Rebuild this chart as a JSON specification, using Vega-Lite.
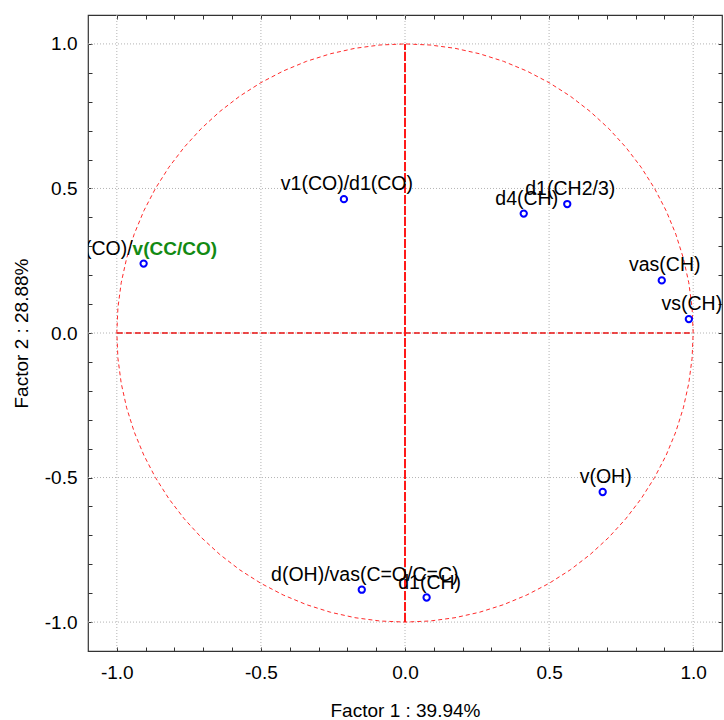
{
  "$schema": "https://vega.github.io/schema/vega-lite/v6.json",
  "autosize": {"type": "none"},
  "width": 634,
  "height": 636,
  "padding": {"left": 88, "top": 15, "right": 2, "bottom": 69},
  "config": {
    "view": {"stroke": "#333333", "strokeWidth": 1.2},
    "font": "Liberation Sans",
    "axis": {
      "labelFont": "Liberation Sans",
      "labelFontSize": 19,
      "labelColor": "#000000",
      "titleFont": "Liberation Sans",
      "titleFontSize": 19,
      "titleFontWeight": "normal",
      "titleColor": "#000000",
      "domain": false,
      "grid": false,
      "tickColor": "#333333",
      "tickWidth": 1,
      "tickSize": -4
    }
  },
  "datasets": {
    "circle": [
      {"a":0,"x":1,"y":0},{"a":5,"x":0.9962,"y":0.0872},{"a":10,"x":0.9848,"y":0.1736},{"a":15,"x":0.9659,"y":0.2588},{"a":20,"x":0.9397,"y":0.342},{"a":25,"x":0.9063,"y":0.4226},{"a":30,"x":0.866,"y":0.5},{"a":35,"x":0.8192,"y":0.5736},{"a":40,"x":0.766,"y":0.6428},{"a":45,"x":0.7071,"y":0.7071},{"a":50,"x":0.6428,"y":0.766},{"a":55,"x":0.5736,"y":0.8192},{"a":60,"x":0.5,"y":0.866},{"a":65,"x":0.4226,"y":0.9063},{"a":70,"x":0.342,"y":0.9397},{"a":75,"x":0.2588,"y":0.9659},{"a":80,"x":0.1736,"y":0.9848},{"a":85,"x":0.0872,"y":0.9962},{"a":90,"x":0,"y":1},
      {"a":95,"x":-0.0872,"y":0.9962},{"a":100,"x":-0.1736,"y":0.9848},{"a":105,"x":-0.2588,"y":0.9659},{"a":110,"x":-0.342,"y":0.9397},{"a":115,"x":-0.4226,"y":0.9063},{"a":120,"x":-0.5,"y":0.866},{"a":125,"x":-0.5736,"y":0.8192},{"a":130,"x":-0.6428,"y":0.766},{"a":135,"x":-0.7071,"y":0.7071},{"a":140,"x":-0.766,"y":0.6428},{"a":145,"x":-0.8192,"y":0.5736},{"a":150,"x":-0.866,"y":0.5},{"a":155,"x":-0.9063,"y":0.4226},{"a":160,"x":-0.9397,"y":0.342},{"a":165,"x":-0.9659,"y":0.2588},{"a":170,"x":-0.9848,"y":0.1736},{"a":175,"x":-0.9962,"y":0.0872},{"a":180,"x":-1,"y":0},
      {"a":185,"x":-0.9962,"y":-0.0872},{"a":190,"x":-0.9848,"y":-0.1736},{"a":195,"x":-0.9659,"y":-0.2588},{"a":200,"x":-0.9397,"y":-0.342},{"a":205,"x":-0.9063,"y":-0.4226},{"a":210,"x":-0.866,"y":-0.5},{"a":215,"x":-0.8192,"y":-0.5736},{"a":220,"x":-0.766,"y":-0.6428},{"a":225,"x":-0.7071,"y":-0.7071},{"a":230,"x":-0.6428,"y":-0.766},{"a":235,"x":-0.5736,"y":-0.8192},{"a":240,"x":-0.5,"y":-0.866},{"a":245,"x":-0.4226,"y":-0.9063},{"a":250,"x":-0.342,"y":-0.9397},{"a":255,"x":-0.2588,"y":-0.9659},{"a":260,"x":-0.1736,"y":-0.9848},{"a":265,"x":-0.0872,"y":-0.9962},{"a":270,"x":0,"y":-1},
      {"a":275,"x":0.0872,"y":-0.9962},{"a":280,"x":0.1736,"y":-0.9848},{"a":285,"x":0.2588,"y":-0.9659},{"a":290,"x":0.342,"y":-0.9397},{"a":295,"x":0.4226,"y":-0.9063},{"a":300,"x":0.5,"y":-0.866},{"a":305,"x":0.5736,"y":-0.8192},{"a":310,"x":0.6428,"y":-0.766},{"a":315,"x":0.7071,"y":-0.7071},{"a":320,"x":0.766,"y":-0.6428},{"a":325,"x":0.8192,"y":-0.5736},{"a":330,"x":0.866,"y":-0.5},{"a":335,"x":0.9063,"y":-0.4226},{"a":340,"x":0.9397,"y":-0.342},{"a":345,"x":0.9659,"y":-0.2588},{"a":350,"x":0.9848,"y":-0.1736},{"a":355,"x":0.9962,"y":-0.0872},{"a":360,"x":1,"y":0}
    ],
    "grid": [{"v": -1}, {"v": -0.5}, {"v": 0}, {"v": 0.5}, {"v": 1}],
    "pts": [
      {"x":-0.212,"y":0.463,"lbl":"v1(CO)/d1(CO)"},
      {"x":0.412,"y":0.413,"lbl":"d4(CH)"},
      {"x":0.563,"y":0.446,"lbl":"d1(CH2/3)"},
      {"x":0.891,"y":0.182,"lbl":"vas(CH)"},
      {"x":0.985,"y":0.048,"lbl":"vs(CH)"},
      {"x":0.686,"y":-0.55,"lbl":"v(OH)"},
      {"x":-0.15,"y":-0.888,"lbl":"d(OH)/vas(C=O/C=C)"},
      {"x":0.075,"y":-0.915,"lbl":"d1(CH)"}
    ],
    "special": [
      {"x":-0.907,"y":0.24,"pre":"(CO)/","post":"v(CC/CO)"}
    ]
  },
  "resolve": {"axis": {"x": "independent", "y": "independent"}},
  "layer": [
    {
      "data": {"name": "grid"},
      "mark": {"type": "rule", "color": "#b4b4b4", "strokeWidth": 1, "strokeDash": [1, 2]},
      "encoding": {
        "x": {
          "field": "v", "type": "quantitative",
          "scale": {"domain": [-1.1, 1.1], "nice": false, "zero": false},
          "axis": {
            "orient": "bottom",
            "title": "Factor 1 : 39.94%",
            "titlePadding": 19,
            "values": [-1, -0.9, -0.8, -0.7, -0.6, -0.5, -0.4, -0.3, -0.2, -0.1, 0, 0.1, 0.2, 0.3, 0.4, 0.5, 0.6, 0.7, 0.8, 0.9, 1],
            "labelExpr": "abs(datum.value*2 - round(datum.value*2)) < 0.001 ? replace(format(datum.value, '.1f'), '\u2212', '-') : ''",
            "labelPadding": 16
          }
        }
      }
    },
    {
      "data": {"name": "grid"},
      "mark": {"type": "rule", "color": "#b4b4b4", "strokeWidth": 1, "strokeDash": [1, 2]},
      "encoding": {
        "y": {
          "field": "v", "type": "quantitative",
          "scale": {"domain": [-1.1, 1.1], "nice": false, "zero": false},
          "axis": {
            "orient": "left",
            "title": "Factor 2 : 28.88%",
            "titlePadding": 13,
            "values": [-1, -0.9, -0.8, -0.7, -0.6, -0.5, -0.4, -0.3, -0.2, -0.1, 0, 0.1, 0.2, 0.3, 0.4, 0.5, 0.6, 0.7, 0.8, 0.9, 1],
            "labelExpr": "abs(datum.value*2 - round(datum.value*2)) < 0.001 ? replace(format(datum.value, '.1f'), '\u2212', '-') : ''",
            "labelPadding": 15
          }
        }
      }
    },
    {
      "data": {"name": "circle"},
      "mark": {"type": "line", "color": "#ff2b2b", "strokeWidth": 1, "strokeDash": [4, 3]},
      "encoding": {
        "x": {"field": "x", "type": "quantitative", "scale": {"domain": [-1.1, 1.1], "nice": false, "zero": false}, "axis": null},
        "y": {"field": "y", "type": "quantitative", "scale": {"domain": [-1.1, 1.1], "nice": false, "zero": false}, "axis": null},
        "order": {"field": "a", "type": "quantitative"}
      }
    },
    {
      "data": {"values": [{"x": -1, "x2": 1, "y": 0}]},
      "mark": {"type": "rule", "color": "#e81010", "strokeWidth": 1.3, "strokeDash": [6, 3]},
      "encoding": {
        "x": {"field": "x", "type": "quantitative", "scale": {"domain": [-1.1, 1.1], "nice": false, "zero": false}, "axis": null},
        "x2": {"field": "x2"},
        "y": {"field": "y", "type": "quantitative", "scale": {"domain": [-1.1, 1.1], "nice": false, "zero": false}, "axis": null}
      }
    },
    {
      "data": {"values": [{"x": 0, "y": -1, "y2": 1}]},
      "mark": {"type": "rule", "color": "#ff1a1a", "strokeWidth": 2, "strokeDash": [9, 2]},
      "encoding": {
        "x": {"field": "x", "type": "quantitative", "scale": {"domain": [-1.1, 1.1], "nice": false, "zero": false}, "axis": null},
        "y": {"field": "y", "type": "quantitative", "scale": {"domain": [-1.1, 1.1], "nice": false, "zero": false}, "axis": null},
        "y2": {"field": "y2"}
      }
    },
    {
      "data": {"name": "pts"},
      "mark": {"type": "point", "shape": "circle", "filled": false, "color": "#0000ff", "strokeWidth": 2, "size": 40, "opacity": 1},
      "encoding": {
        "x": {
          "field": "x", "type": "quantitative",
          "scale": {"domain": [-1.1, 1.1], "nice": false, "zero": false},
          "axis": {"orient": "top", "title": null, "labels": false,
            "values": [-1, -0.9, -0.8, -0.7, -0.6, -0.5, -0.4, -0.3, -0.2, -0.1, 0, 0.1, 0.2, 0.3, 0.4, 0.5, 0.6, 0.7, 0.8, 0.9, 1]}
        },
        "y": {
          "field": "y", "type": "quantitative",
          "scale": {"domain": [-1.1, 1.1], "nice": false, "zero": false},
          "axis": {"orient": "right", "title": null, "labels": false,
            "values": [-1, -0.9, -0.8, -0.7, -0.6, -0.5, -0.4, -0.3, -0.2, -0.1, 0, 0.1, 0.2, 0.3, 0.4, 0.5, 0.6, 0.7, 0.8, 0.9, 1]}
        }
      }
    },
    {
      "data": {"name": "special"},
      "mark": {"type": "point", "shape": "circle", "filled": false, "color": "#0000ff", "strokeWidth": 2, "size": 40, "opacity": 1},
      "encoding": {
        "x": {"field": "x", "type": "quantitative", "scale": {"domain": [-1.1, 1.1], "nice": false, "zero": false}, "axis": null},
        "y": {"field": "y", "type": "quantitative", "scale": {"domain": [-1.1, 1.1], "nice": false, "zero": false}, "axis": null}
      }
    },
    {
      "data": {"name": "pts"},
      "mark": {"type": "text", "font": "Liberation Sans", "fontSize": 19.5, "color": "#000000", "align": "center", "baseline": "alphabetic", "dx": 3, "dy": -9},
      "encoding": {
        "x": {"field": "x", "type": "quantitative", "scale": {"domain": [-1.1, 1.1], "nice": false, "zero": false}, "axis": null},
        "y": {"field": "y", "type": "quantitative", "scale": {"domain": [-1.1, 1.1], "nice": false, "zero": false}, "axis": null},
        "text": {"field": "lbl"}
      }
    },
    {
      "data": {"name": "special"},
      "mark": {"type": "text", "font": "Liberation Sans", "fontSize": 19.5, "color": "#000000", "align": "right", "baseline": "alphabetic", "dx": -11, "dy": -9, "clip": true},
      "encoding": {
        "x": {"field": "x", "type": "quantitative", "scale": {"domain": [-1.1, 1.1], "nice": false, "zero": false}, "axis": null},
        "y": {"field": "y", "type": "quantitative", "scale": {"domain": [-1.1, 1.1], "nice": false, "zero": false}, "axis": null},
        "text": {"field": "pre"}
      }
    },
    {
      "data": {"name": "special"},
      "mark": {"type": "text", "font": "Liberation Sans", "fontSize": 19, "fontWeight": "bold", "color": "#138a13", "align": "left", "baseline": "alphabetic", "dx": -11, "dy": -9},
      "encoding": {
        "x": {"field": "x", "type": "quantitative", "scale": {"domain": [-1.1, 1.1], "nice": false, "zero": false}, "axis": null},
        "y": {"field": "y", "type": "quantitative", "scale": {"domain": [-1.1, 1.1], "nice": false, "zero": false}, "axis": null},
        "text": {"field": "post"}
      }
    }
  ]
}
